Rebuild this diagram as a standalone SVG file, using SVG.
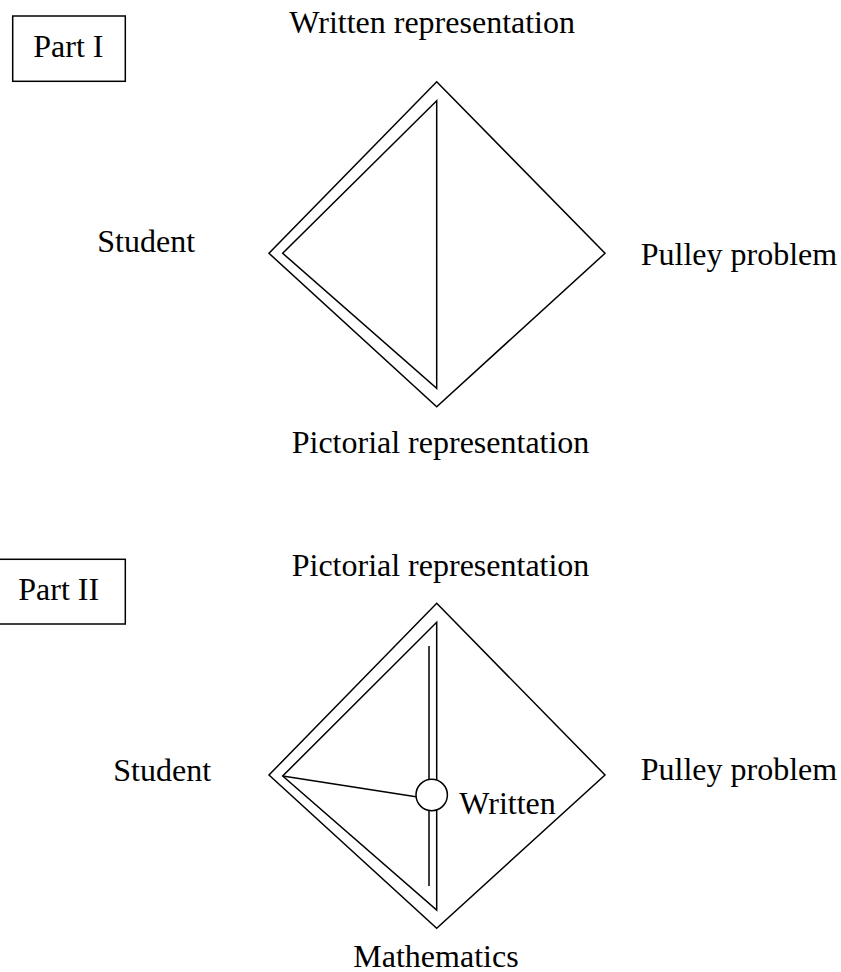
<svg xmlns="http://www.w3.org/2000/svg" width="841" height="972" viewBox="0 0 841 972">
<style>
text{font-family:"Liberation Serif","Times New Roman",serif;font-size:32px;fill:#000}
.ln{fill:none;stroke:#000;stroke-width:1.5;stroke-linejoin:miter}
.bx{fill:#fff;stroke:#000;stroke-width:1.5}
</style>
<rect width="841" height="972" fill="#fff"/>
<g id="part1">
  <g id="p1-label"><rect class="bx" x="12.7" y="16" width="112.6" height="65.3"/><text x="33.3" y="57.3">Part I</text></g>
  <g id="p1-written"><text x="289.3" y="33.3">Written representation</text></g>
  <g id="p1-student"><text x="97.3" y="251.7">Student</text></g>
  <g id="p1-pulley"><text x="640.7" y="265">Pulley problem</text></g>
  <g id="p1-pictorial"><text x="291.7" y="452.7">Pictorial representation</text></g>
  <g id="p1-connectors">
    <polygon class="ln" points="436.7,81.7 605,253.3 436.7,406.7 269,253.3"/>
    <polygon class="ln" points="436.7,100.7 436.7,388.3 282.7,253.3"/>
  </g>
</g>
<g id="part2">
  <g id="p2-label"><rect class="bx" x="-2" y="559.3" width="127.3" height="64.7"/><text x="18.3" y="600">Part II</text></g>
  <g id="p2-pictorial"><text x="291.7" y="576">Pictorial representation</text></g>
  <g id="p2-student"><text x="113.3" y="780.7">Student</text></g>
  <g id="p2-pulley"><text x="640.7" y="780">Pulley problem</text></g>
  <g id="p2-math"><text x="353.3" y="966.7">Mathematics</text></g>
  <g id="p2-connectors">
    <polygon class="ln" points="436.7,603.3 605,775 436.7,928.3 269,775"/>
    <polygon class="ln" points="436.7,622.3 436.7,910 282.7,776"/>
    <line class="ln" x1="429" y1="646" x2="429" y2="886"/>
    <line class="ln" x1="282.7" y1="776" x2="416" y2="796.7"/>
  </g>
  <g id="p2-written">
    <circle cx="431.7" cy="795" r="15.7" fill="#fff" stroke="#000" stroke-width="1.5"/>
    <text x="459.3" y="814">Written</text>
  </g>
</g>
</svg>
